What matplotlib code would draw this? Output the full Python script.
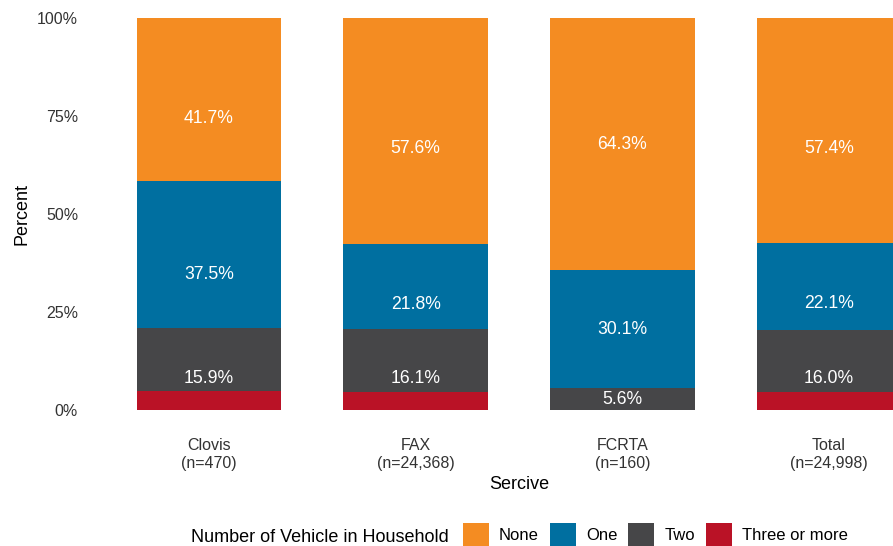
import matplotlib.pyplot as plt
from matplotlib.patches import Patch
import numpy as np

plt.rcParams['font.family'] = ['Liberation Sans', 'DejaVu Sans']

services = ['Clovis\n(n=470)', 'FAX\n(n=24,368)', 'FCRTA\n(n=160)', 'Total\n(n=24,998)']
categories = ['None', 'One', 'Two', 'Three or more']
none_pct = [41.7, 57.6, 64.3, 57.4]
one_pct = [37.5, 21.8, 30.1, 22.1]
two_pct = [15.9, 16.1, 5.6, 16.0]
three_pct = [4.9, 4.5, 0.0, 4.5]
colors = ['#F48C22', '#006FA0', '#464648', '#BA1226']

fig = plt.figure(figsize=(8.93, 5.46), dpi=100)
W, H = 893, 546
# axis spans x 0.4..4.6 (ggplot style expansion), right side cropped
ax = fig.add_axes([85 / W, 1 - 410 / H, 868 / W, 392 / H])

x = np.arange(1, 5)
stack = [three_pct, two_pct, one_pct, none_pct]
stack_cols = colors[::-1]
bottom = np.zeros(4)
for vals, col in zip(stack, stack_cols):
    ax.bar(x, vals, width=0.7, bottom=bottom, color=col)
    bottom += np.array(vals)

# labels stacked from the labelled categories only (Three or more unlabelled)
lab_bottom = np.zeros(4)
for vals in [two_pct, one_pct, none_pct]:
    v = np.array(vals)
    for xi, b, val in zip(x, lab_bottom, v):
        ax.text(xi, b + val / 2, f'{val:.1f}%', ha='center', va='center',
                color='white', fontsize=12.7)
    lab_bottom += v

ax.set_xlim(0.4, 4.6)
ax.set_ylim(0, 100)
ax.set_yticks([0, 25, 50, 75, 100])
ax.set_yticklabels(['0%', '25%', '50%', '75%', '100%'])
ax.set_xticks(x)
ax.set_xticklabels(services, linespacing=1.25)
ax.tick_params(length=0, labelsize=11.5, colors='#333333')
ax.tick_params(axis='y', pad=5)
ax.tick_params(axis='x', pad=20)
for s in ax.spines.values():
    s.set_visible(False)
ax.set_ylabel('Percent', fontsize=13, labelpad=5)
ax.set_xlabel('Sercive', fontsize=13, labelpad=4)

fig.text(191 / W, 1 - 537 / H, 'Number of Vehicle in Household', fontsize=13,
         ha='left', va='center')
handles = [Patch(facecolor=c, edgecolor='none') for c in colors]
fig.legend(handles, categories, ncol=4, loc='upper left',
           bbox_to_anchor=(463 / W, 1 - 523 / H), frameon=False, fontsize=12,
           handlelength=1.56, handleheight=1.8, handletextpad=0.6,
           columnspacing=0.66, borderpad=0, borderaxespad=0)

fig.savefig('out.png', dpi=100)
